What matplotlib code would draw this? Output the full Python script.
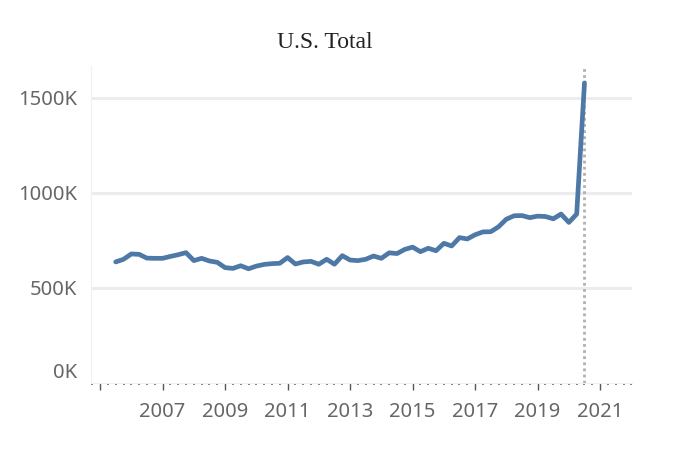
import numpy as np
import matplotlib
matplotlib.use('Agg')
import matplotlib.pyplot as plt
import matplotlib.transforms as mtransforms

# Quarterly values (thousands), 2005 Q3 .. 2020 Q3
start_year = 2005.5
values = [637, 651, 679, 677, 657, 656, 656, 666, 675, 686,
          644, 656, 642, 635, 607, 603, 617, 601, 615, 624,
          628, 630, 660, 626, 637, 640, 625, 651, 625, 670,
          647, 644, 651, 668, 656, 685, 681, 703, 715, 691,
          709, 696, 735, 721, 765, 758, 780, 795, 796, 822,
          862, 880, 881, 870, 878, 876, 864, 889, 845, 889,
          1579]
dates = start_year + 0.25 * np.arange(len(values))
ref_date = 2020.5

ytick_vals = [0, 500, 1000, 1500]
ytick_labels = ['0K', '500K', '1000K', '1500K']
xtick_years = list(range(2005, 2022, 2))
xtick_labels = [''] + [str(y) for y in xtick_years[1:]]

line_color = '#4e79a7'
text_color = '#666666'
grid_color = '#ececec'

fig = plt.figure(figsize=(6.8, 4.49), dpi=100)
ax = fig.add_axes([91/680, 1 - 383/449, (632-91)/680, (383-66)/449])

for v in ytick_vals[1:]:
    ax.axhline(v, color=grid_color, lw=2.2, zorder=0)

ax.axvline(ref_date, color='#b0b0b0', lw=2, ls=(0, (1, 1.2)), zorder=1)
ax.plot(dates, values, color=line_color, lw=3.4, solid_joinstyle='round',
        solid_capstyle='round', zorder=3)

ax.set_xlim(2004.71, 2022.02)
ax.set_ylim(0, 1668)

for s in ['top', 'right']:
    ax.spines[s].set_visible(False)
ax.spines['left'].set_color('#f0f0f0')
ax.spines['bottom'].set_color('#f0f0f0')

ax.set_yticks(ytick_vals)
ax.set_yticklabels(ytick_labels, fontsize=14.5, color=text_color, family='Noto Sans')
ax.tick_params(axis='y', length=0, pad=10)
lab0 = ax.get_yticklabels()[0]
lab0.set_transform(lab0.get_transform() +
                   mtransforms.ScaledTranslation(0, 13/100, fig.dpi_scale_trans))

ax.set_xticks(xtick_years)
ax.set_xticklabels(xtick_labels, fontsize=14.5, color=text_color, family='Noto Sans')
ax.set_xticks(np.arange(2004.75, 2022.01, 0.25), minor=True)
ax.tick_params(axis='x', which='major', length=5, width=1, color='#555555',
               pad=9)
ax.tick_params(axis='x', which='minor', length=1.5, width=1.2, color='#666666')

fig.text(325/680, 1 - 42/449, 'U.S. Total', ha='center', va='center',
         fontsize=17, family='Liberation Serif', color='#222222')

fig.savefig('out.png', dpi=100)
